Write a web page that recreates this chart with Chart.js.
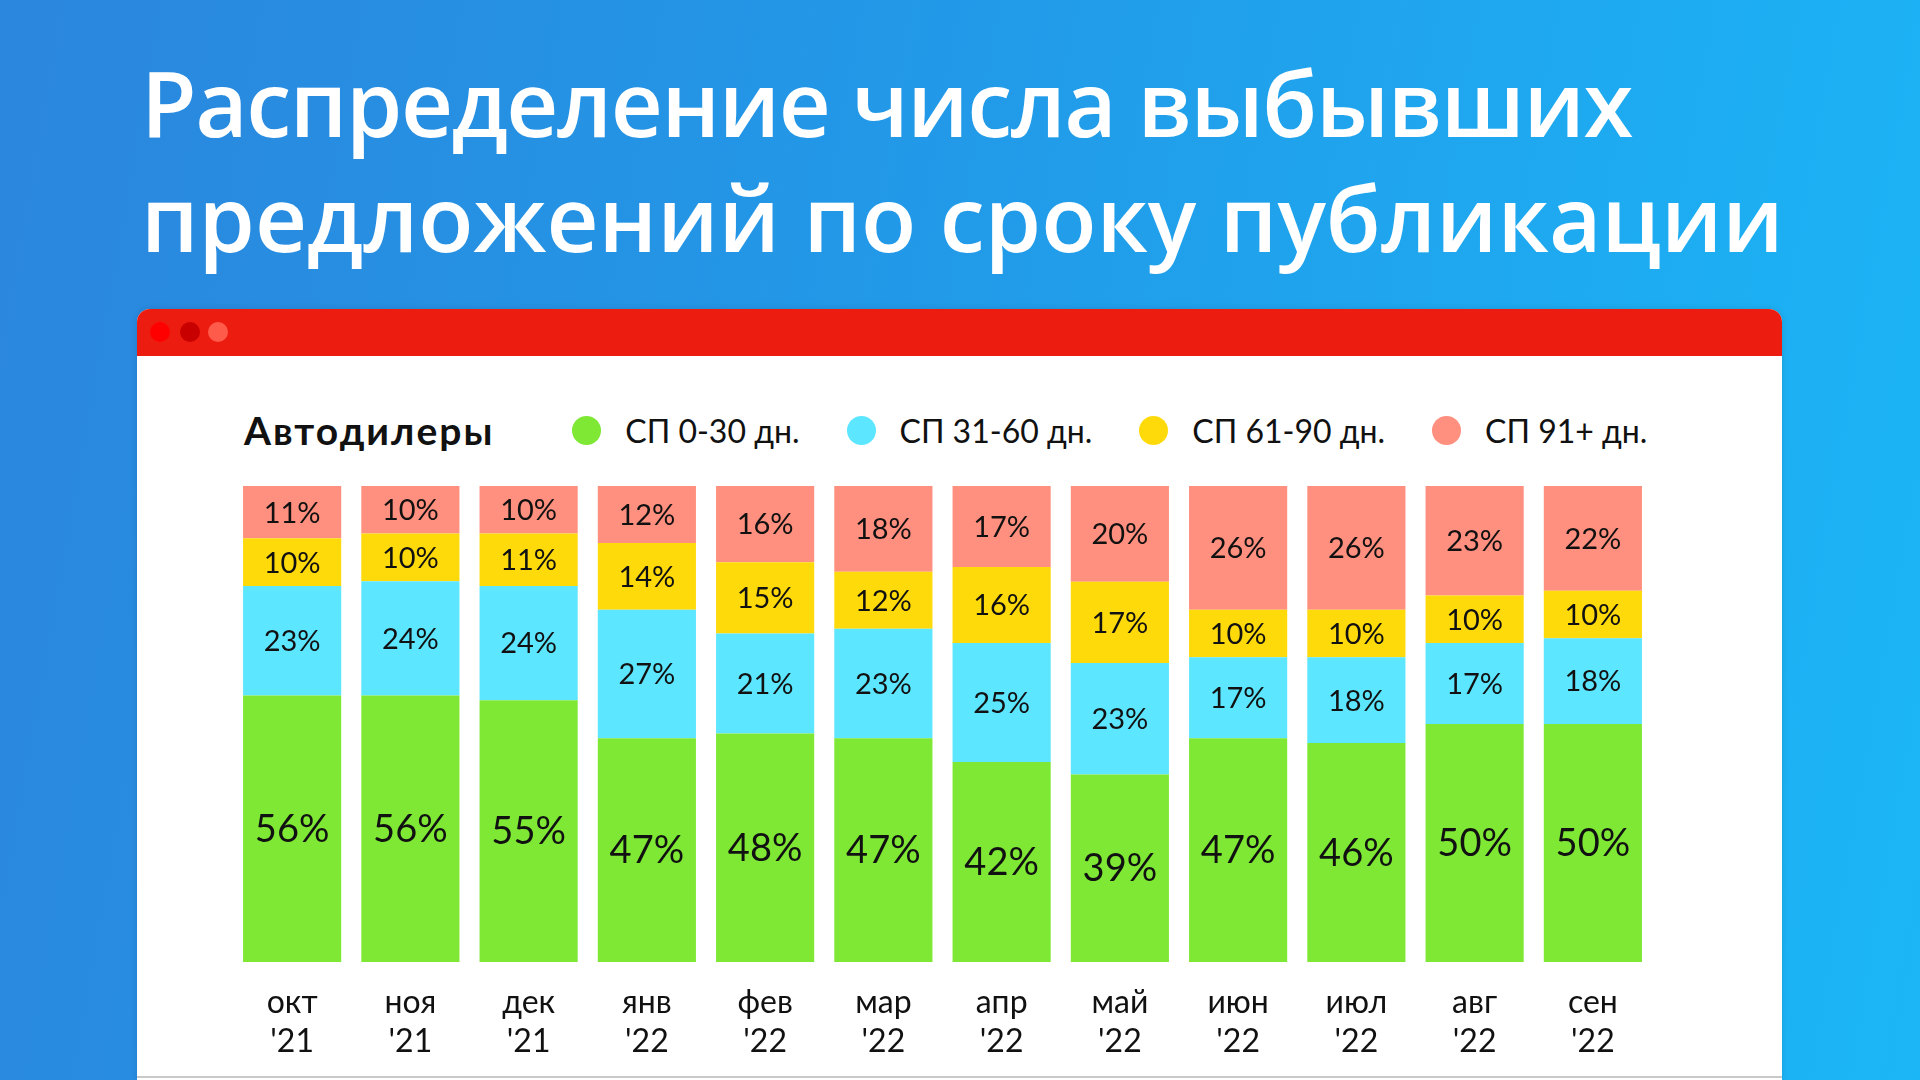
<!DOCTYPE html>
<html lang="ru">
<head>
<meta charset="utf-8">
<script src="https://cdn.jsdelivr.net/npm/chart.js@4.4.1/dist/chart.umd.min.js"></script>
<style>
  html, body { margin: 0; padding: 0; width: 1920px; height: 1080px; overflow: hidden; }
  body { background: linear-gradient(100deg, #2b86dd 0%, #2299e8 45%, #1bb6f6 100%); font-family: Lato, "Noto Sans", sans-serif; position: relative; }
  .title { position: absolute; left: 141px; color: #fff; font-family: "Open Sans", sans-serif; font-weight: 600; white-space: nowrap; line-height: 1; }
  #win { position: absolute; left: 137px; top: 309px; width: 1645px; height: 771px; background: #fff; border-radius: 13px 13px 0 0; box-shadow: 0 0 6px rgba(0,0,0,0.12); }
  #bar { position: absolute; left: 0; top: 0; width: 100%; height: 47px; background: #ec1d10; border-radius: 13px 13px 0 0; }
  .dot { position: absolute; top: 13px; width: 20px; height: 20px; border-radius: 50%; }
  #bottomline { position: absolute; left: 0; bottom: 2px; width: 100%; height: 2px; background: #c9c9c9; }
  #legend { position: absolute; left: 244px; top: 409px; height: 42px; display: flex; align-items: center; white-space: nowrap; }
  #legend .head { font-weight: 700; font-size: 39px; letter-spacing: 2px; color: #111; margin-right: 78px; }
  #legend .item { display: flex; align-items: center; margin-right: 47px; font-size: 32px; color: #111; }
  #legend .sw { width: 29px; height: 29px; border-radius: 50%; margin-right: 24px; }
  #wrap { position: absolute; left: 233px; top: 470px; width: 1419px; height: 612px; }
</style>
</head>
<body>
<div class="title" id="t1">Распределение числа выбывших</div>
<div class="title" id="t2">предложений по сроку публикации</div>
<div id="win">
  <div id="bar">
    <div class="dot" style="left:13px;background:#ff0000"></div>
    <div class="dot" style="left:43px;background:#c90000"></div>
    <div class="dot" style="left:71px;background:#ff5b4b"></div>
  </div>
  <div id="bottomline"></div>
</div>
<div id="legend"></div>
<div id="wrap"><canvas id="c"></canvas></div>
<script>
const chartTitle = "Автодилеры";
const months = ["окт", "ноя", "дек", "янв", "фев", "мар", "апр", "май", "июн", "июл", "авг", "сен"];
const years = ["'21", "'21", "'21", "'22", "'22", "'22", "'22", "'22", "'22", "'22", "'22", "'22"];
const seriesNames = ["СП 0-30 дн.", "СП 31-60 дн.", "СП 61-90 дн.", "СП 91+ дн."];
const seriesColors = ["#7ee834", "#5ce6ff", "#ffda0b", "#ff8f7e"];
const sp0_30  = [56, 56, 55, 47, 48, 47, 42, 39.4, 47, 46, 50, 50];
const sp31_60 = [23, 24, 24, 27, 21, 23, 25, 23.4, 17, 18, 17, 18];
const sp61_90 = [10, 10, 11, 14, 15, 12, 16, 17.1, 10, 10, 10, 10];
const sp91    = [11, 10, 10, 12, 16, 18, 17, 20.1, 26, 26, 23, 22];
const seriesValues = [sp0_30, sp31_60, sp61_90, sp91];

// Title fitting
(function () {
  const t1 = document.getElementById('t1'), t2 = document.getElementById('t2');
  let fs = 98;
  t2.style.fontSize = fs + 'px';
  const w = t2.getBoundingClientRect().width;
  fs = fs * 1643 / w;
  [t1, t2].forEach(t => t.style.fontSize = fs + 'px');
  const w1 = t1.getBoundingClientRect().width;
  const n1 = t1.textContent.length;
  t1.style.letterSpacing = ((1491 - w1) / n1) + 'px';
  t1.style.top = (138 - 0.89 * fs) + 'px';
  t2.style.top = (253 - 0.89 * fs) + 'px';
})();

// Legend
(function () {
  const lg = document.getElementById('legend');
  const h = document.createElement('div'); h.className = 'head'; h.textContent = chartTitle; lg.appendChild(h);
  seriesNames.forEach((n, i) => {
    const it = document.createElement('div'); it.className = 'item';
    const sw = document.createElement('div'); sw.className = 'sw'; sw.style.background = seriesColors[i];
    const tx = document.createElement('span'); tx.textContent = n;
    it.appendChild(sw); it.appendChild(tx); lg.appendChild(it);
  });
})();

const labelPlugin = {
  id: 'segLabels',
  afterDatasetsDraw(chart) {
    const ctx = chart.ctx;
    ctx.save();
    ctx.fillStyle = '#111';
    ctx.textAlign = 'center';
    ctx.textBaseline = 'middle';
    chart.data.datasets.forEach((ds, di) => {
      const meta = chart.getDatasetMeta(di);
      ctx.font = (di === 0 ? '38px' : '29px') + ' Lato, "Noto Sans", sans-serif';
      meta.data.forEach((el, i) => {
        const y = (el.y + el.base) / 2;
        ctx.fillText(Math.round(ds.data[i]) + '%', el.x, y + 1);
      });
    });
    ctx.restore();
  }
};

new Chart(document.getElementById('c'), {
  type: 'bar',
  data: {
    labels: months.map((m, i) => [m, years[i]]),
    datasets: seriesNames.map((n, i) => ({
      label: n,
      data: seriesValues[i],
      backgroundColor: seriesColors[i],
      borderWidth: 0,
      categoryPercentage: 1,
      barPercentage: 0.83
    }))
  },
  options: {
    responsive: true,
    maintainAspectRatio: false,
    animation: false,
    layout: { padding: { top: 16, left: 0, right: 0, bottom: 0 } },
    plugins: { legend: { display: false }, tooltip: { enabled: false } },
    scales: {
      x: {
        stacked: true,
        grid: { display: false, drawTicks: false },
        border: { display: false },
        ticks: { color: '#111', font: { family: 'Lato, "Noto Sans", sans-serif', size: 32, lineHeight: 1.22 }, padding: 21, maxRotation: 0, autoSkip: false }
      },
      y: { stacked: true, display: false, min: 0, max: 100 }
    }
  },
  plugins: [labelPlugin]
});
</script>
</body>
</html>
